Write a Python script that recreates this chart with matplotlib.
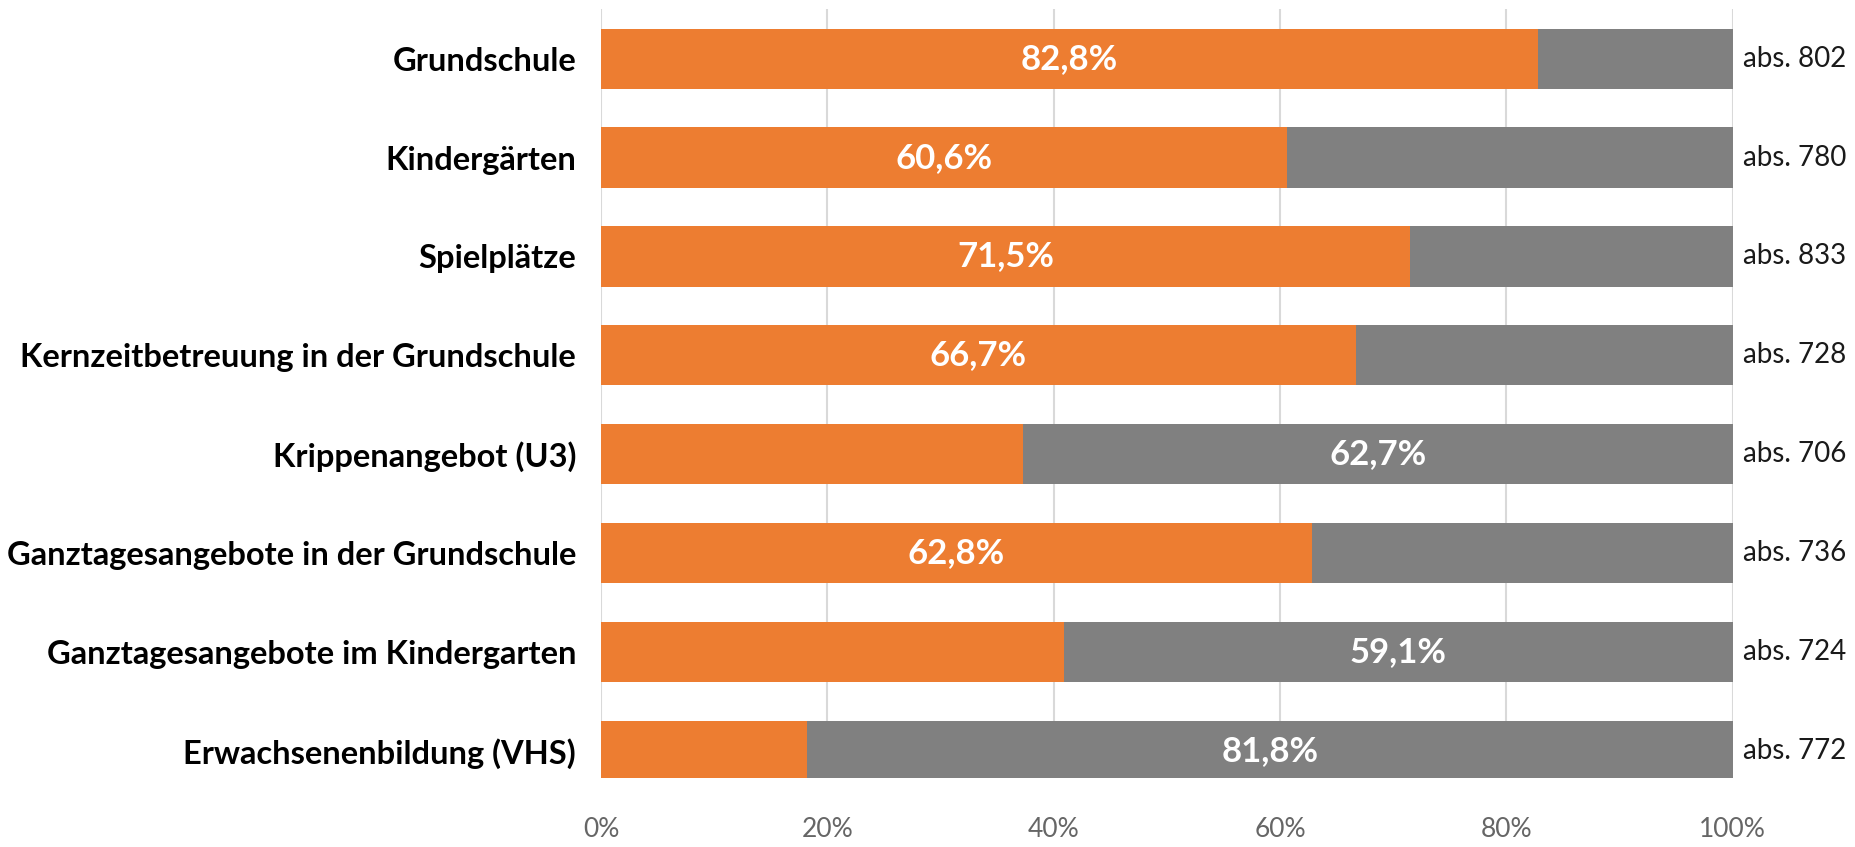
import numpy as np
import matplotlib
matplotlib.use('Agg')
import matplotlib.pyplot as plt

# Data
categories = ['Grundschule', 'Kindergärten', 'Spielplätze',
              'Kernzeitbetreuung in der Grundschule', 'Krippenangebot (U3)',
              'Ganztagesangebote in der Grundschule',
              'Ganztagesangebote im Kindergarten', 'Erwachsenenbildung (VHS)']
share_yes = [82.8, 60.6, 71.5, 66.7, 37.3, 62.8, 40.9, 18.2]
share_no = [17.2, 39.4, 28.5, 33.3, 62.7, 37.2, 59.1, 81.8]
abs_n = [802, 780, 833, 728, 706, 736, 724, 772]
xticks = [0, 20, 40, 60, 80, 100]

orange = '#ED7D31'
grey = '#808080'

plt.rcParams['font.family'] = ['Lato', 'DejaVu Sans']

fig = plt.figure(figsize=(18.55, 8.47), dpi=100)
ax = fig.add_axes([0.324, 0.081, 0.61, 0.908])

y = np.arange(len(categories))
ax.barh(y, share_yes, height=0.61, color=orange, zorder=3)
ax.barh(y, share_no, left=share_yes, height=0.61, color=grey, zorder=3)

# label the bigger segment of each bar
for i in range(len(categories)):
    if share_yes[i] >= share_no[i]:
        xc = share_yes[i] / 2
        txt = f'{share_yes[i]:.1f}%'.replace('.', ',')
    else:
        xc = share_yes[i] + share_no[i] / 2
        txt = f'{share_no[i]:.1f}%'.replace('.', ',')
    ax.text(xc, i, txt, ha='center', va='center', color='white',
            fontsize=25, fontweight='bold', zorder=4)
    ax.text(100.9, i, f'abs. {abs_n[i]}', ha='left', va='center',
            color='#1a1a1a', fontsize=20, clip_on=False)

ax.set_xlim(0, 100)
ax.set_ylim(7.28, -0.5)
ax.set_yticks(y)
ax.set_yticklabels(categories, fontsize=23.5, fontweight='bold')
ax.set_xticks(xticks)
ax.set_xticklabels([f'{t}%' for t in xticks], fontsize=19, color='#666666')
ax.tick_params(axis='both', length=0)
ax.tick_params(axis='y', pad=18)
ax.tick_params(axis='x', pad=28)
ax.grid(axis='x', color='#D9D9D9', linewidth=1.5, zorder=0)
for s in ax.spines.values():
    s.set_visible(False)

fig.savefig('out.png', dpi=100)
